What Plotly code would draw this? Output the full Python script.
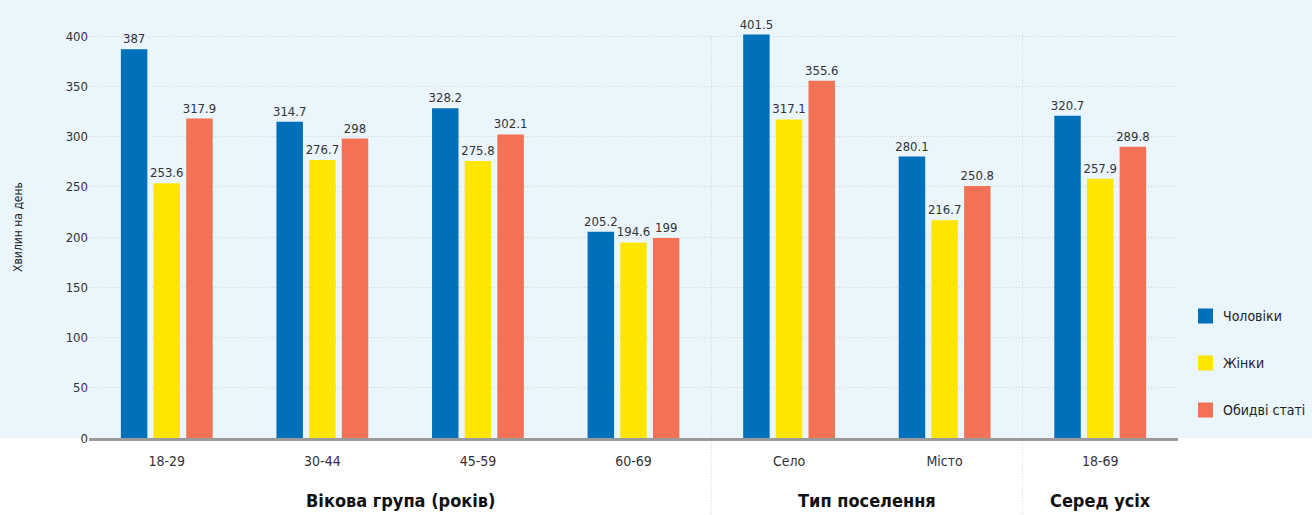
import plotly.graph_objects as go

categories = ["18-29", "30-44", "45-59", "60-69", "Село", "Місто", "18-69"]
men = [387, 314.7, 328.2, 205.2, 401.5, 280.1, 320.7]
women = [253.6, 276.7, 275.8, 194.6, 317.1, 216.7, 257.9]
both = [317.9, 298, 302.1, 199, 355.6, 250.8, 289.8]
series_names = ["Чоловіки", "Жінки", "Обидві статі"]
colors = ["#0070BA", "#FFE500", "#F37155"]
group_labels = ["Вікова група (років)", "Тип поселення", "Серед усіх"]
group_centers = [1.5, 4.5, 6]
separators = [3.5, 5.5]
y_title = "Хвилин на день"

FONT = "DejaVu Sans Condensed, Liberation Sans Narrow, Roboto, sans-serif"
BG = "#EAF5FC"

# layout geometry (pixels)
W, H = 1312, 515
ML, MR, MT, MB = 89, 134, 16, 77
PW = W - ML - MR
PH = H - MT - MB

def px_x(px):
    return (px - ML) / PW

def px_y(py):
    return (H - MB - py) / PH

def fmt(v):
    return ("%g" % v)

fig = go.Figure()
for name, vals, col in zip(series_names, [men, women, both], colors):
    fig.add_trace(go.Bar(
        x=categories, y=vals, name=name,
        marker=dict(color=col, line=dict(width=0)),
        text=[fmt(v) for v in vals], textposition="outside",
        constraintext="none",
        textfont=dict(size=13, color="#333333", family=FONT),
        cliponaxis=False, showlegend=False,
    ))

shapes = [dict(type="rect", xref="paper", yref="paper", x0=-0.2, x1=1.3, y0=0, y1=1.2,
               fillcolor=BG, line=dict(width=0), layer="below")]
for s in separators:
    shapes.append(dict(type="line", xref="x", yref="paper", x0=s, x1=s, y0=-0.2, y1=0.955,
                       line=dict(color="#CFCFCF", width=1, dash="1px,2px"), layer="below"))

annotations = []
for lab, c in zip(group_labels, group_centers):
    annotations.append(dict(text="<b>" + lab + "</b>", x=c, xref="x", y=-0.148, yref="paper",
                            showarrow=False, font=dict(size=18, color="#111111", family=FONT),
                            yanchor="middle"))

# manual legend
leg_rows = [316, 363, 410]
for name, col, ry in zip(series_names, colors, leg_rows):
    shapes.append(dict(type="rect", xref="paper", yref="paper",
                       x0=px_x(1198), x1=px_x(1213), y0=px_y(ry + 7.5), y1=px_y(ry - 7.5),
                       fillcolor=col, line=dict(width=0)))
    annotations.append(dict(text=name, x=px_x(1221), xref="paper", y=px_y(ry), yref="paper",
                            xanchor="left", yanchor="middle", showarrow=False,
                            font=dict(size=14, color="#222222", family=FONT)))

fig.update_layout(
    width=W, height=H,
    margin=dict(l=ML, r=MR, t=MT, b=MB),
    paper_bgcolor="white", plot_bgcolor="rgba(0,0,0,0)",
    barmode="group", bargap=0.37, bargroupgap=0.19,
    font=dict(family=FONT, color="#333333", size=14),
    shapes=shapes, annotations=annotations,
    showlegend=False,
    xaxis=dict(type="category", showline=True, linecolor="#9A9A9A", linewidth=3,
               showgrid=False, ticks="", tickfont=dict(size=14, color="#333333"),
               ticklabelstandoff=8, range=[-0.5, 6.5]),
    yaxis=dict(range=[0, 420], tickvals=[0, 50, 100, 150, 200, 250, 300, 350, 400],
               showgrid=True, gridcolor="#D2D2D2", griddash="1px,2px", gridwidth=1,
               zeroline=False, ticks="", tickfont=dict(size=13, color="#333333"),
               title=dict(text=y_title, font=dict(size=12, color="#222222"), standoff=40)),
)

fig.write_html("out.html")
